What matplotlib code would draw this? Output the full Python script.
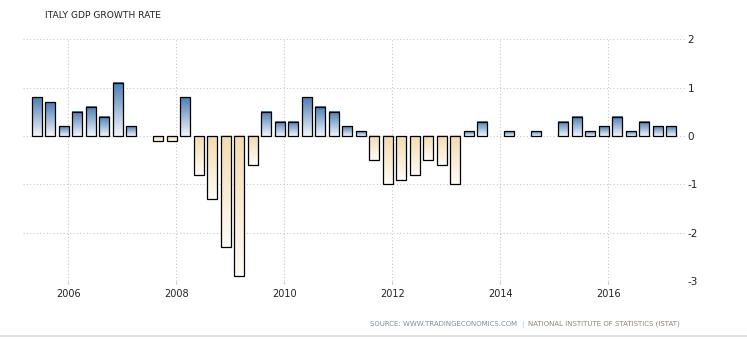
import matplotlib
matplotlib.use("Agg")
import matplotlib.pyplot as plt
import numpy as np
import pandas as pd
from matplotlib.colors import LinearSegmentedColormap
from matplotlib.lines import Line2D
from matplotlib.patches import Rectangle

plt.rcParams.update({"font.family": "DejaVu Sans"})

# quarterly GDP growth, q/q %, 2005Q2 .. 2017Q1
quarters = pd.period_range("2005Q2", "2017Q1", freq="Q")
growth = [
    0.8, 0.7, 0.2,
    0.5, 0.6, 0.4, 1.1,
    0.2, 0.0, -0.1, -0.1,
    0.8, -0.8, -1.3, -2.3,
    -2.9, -0.6, 0.5, 0.3,
    0.3, 0.8, 0.6, 0.5,
    0.2, 0.1, -0.5, -1.0,
    -0.9, -0.8, -0.5, -0.6,
    -1.0, 0.1, 0.3, 0.0,
    0.1, 0.0, 0.1, 0.0,
    0.3, 0.4, 0.1, 0.2,
    0.4, 0.1, 0.3, 0.2,
    0.2,
]
year_ticks = [2006, 2008, 2010, 2012, 2014, 2016]
y_ticks = [-3, -2, -1, 0, 1, 2]

TEXT = "#222222"
GRID = "#c8c8c8"
pos_cmap = LinearSegmentedColormap.from_list("pos", ["#f2f6fb", "#4a7db3"])
neg_cmap = LinearSegmentedColormap.from_list("neg", ["#fefcf8", "#f4dbad"])

fig = plt.figure(figsize=(7.47, 3.40), dpi=100)
ax = fig.add_axes([23 / 747, 58.7 / 340, 663 / 747, 242 / 340])

x = np.array([p.year + (p.quarter * 3 - 1) / 12 for p in quarters])
width = 0.19
grad = np.linspace(0, 1, 128).reshape(-1, 1)

for xi, v in zip(x, growth):
    if v == 0:
        continue
    x0, x1 = xi - width / 2, xi + width / 2
    if v > 0:
        ax.imshow(grad, extent=[x0, x1, 0, v], origin="lower", aspect="auto",
                  cmap=pos_cmap, zorder=2, interpolation="bilinear")
    else:
        ax.imshow(grad, extent=[x0, x1, v, 0], origin="lower", aspect="auto",
                  cmap=neg_cmap, zorder=2, interpolation="bilinear")
    ax.add_patch(Rectangle((x0, min(0, v)), width, abs(v), fill=False,
                           edgecolor="black", lw=0.9, zorder=3))

ax.set_xlim(2005.161, 2017.439)
ax.set_ylim(-3, 2)

ax.set_xticks(year_ticks)
ax.set_xticklabels([str(y) for y in year_ticks], fontsize=7, color=TEXT)
ax.set_yticks(y_ticks)
ax.set_yticklabels([str(y) for y in y_ticks], fontsize=7.5, color=TEXT)
ax.yaxis.tick_right()
ax.tick_params(axis="y", length=0, pad=1)
ax.tick_params(axis="x", length=2.5, color=GRID, pad=3)

ax.grid(True, color=GRID, lw=0.8, linestyle=(0, (1, 2)), zorder=0)
ax.set_axisbelow(True)
for s in ax.spines.values():
    s.set_visible(False)

fig.text(45 / 747, 1 - 15.5 / 340, "ITALY GDP GROWTH RATE", fontsize=6.6,
         color=TEXT, ha="left", va="center")

ty = 1 - 324 / 340
t1 = fig.text(370 / 747, ty, "SOURCE: WWW.TRADINGECONOMICS.COM", fontsize=5,
              color="#7c8fa5", ha="left", va="center")
fig.canvas.draw()
r = fig.canvas.get_renderer()
bb = t1.get_window_extent(r)
t2 = fig.text((bb.x1 + 4) / 747, ty, "|", fontsize=5, color="#a9c4df",
              ha="left", va="center")
bb2 = t2.get_window_extent(r)
fig.text((bb2.x1 + 4) / 747, ty, "NATIONAL INSTITUTE OF STATISTICS (ISTAT)",
         fontsize=5, color="#8d8672", ha="left", va="center")

fig.add_artist(Line2D([0, 1], [4.5 / 340, 4.5 / 340], transform=fig.transFigure,
                      color="#e2e2e2", lw=1.5))

fig.savefig("out.png", dpi=100, facecolor="white")
